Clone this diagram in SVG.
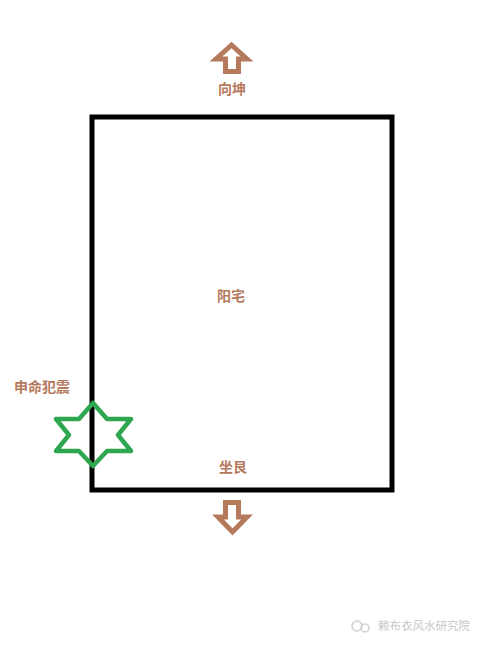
<svg xmlns="http://www.w3.org/2000/svg" width="490" height="654" viewBox="0 0 490 654">
<style>
.lbl{font-family:"Noto Sans CJK SC","Noto Sans",sans-serif;font-size:14px;font-weight:bold;fill:#b57a5c;text-anchor:middle}
.arrow{fill:none;stroke:#b57a5c;stroke-width:5;stroke-linejoin:miter}
.wm{font-family:"Noto Sans CJK SC",sans-serif;font-size:11.5px;fill:#c8c8c8}
</style>
<rect width="490" height="654" fill="#ffffff"/>
<g id="house">
<rect x="92" y="117" width="300" height="373" fill="none" stroke="#000" stroke-width="5"/>
<text class="lbl" x="231" y="301">阳宅</text>
</g>
<g id="up-arrow">
<path class="arrow" d="M231.5,45 L247,59 L238.5,59 L238.5,71.5 L225.5,71.5 L225.5,59 L216,59 Z"/>
<text class="lbl" x="232" y="94">向坤</text>
</g>
<g id="down-arrow">
<path class="arrow" d="M225.5,502.5 L238.5,502.5 L238.5,517 L247,517 L232.5,532 L218,517 L225.5,517 Z"/>
<text class="lbl" x="233" y="472">坐艮</text>
</g>
<g id="star">
<path d="M93,403 L107,419 L131,419 L118,435 L131,451 L107,451 L93,466 L79,451 L56,451 L69,435 L56,419 L79,419 Z" fill="none" stroke="#2ea750" stroke-width="4.5" stroke-linejoin="round"/>
<text class="lbl" x="42" y="392">申命犯震</text>
</g>
<g id="watermark">
<circle cx="357" cy="626" r="5" fill="none" stroke="#d0d0d0" stroke-width="1.5"/>
<circle cx="365" cy="628" r="4" fill="none" stroke="#d0d0d0" stroke-width="1.5"/>
<text class="wm" x="378" y="630">赖布衣风水研究院</text>
</g>
<g id="connectors"/>
</svg>
